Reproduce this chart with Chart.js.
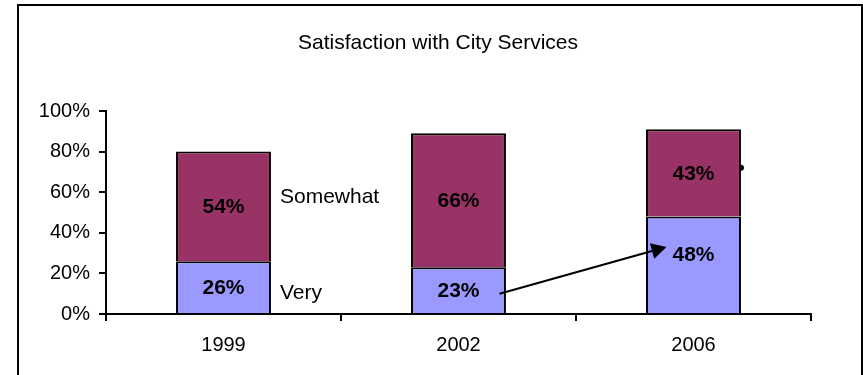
<!DOCTYPE html>
<html>
<head>
<meta charset="utf-8">
<script src="https://cdn.jsdelivr.net/npm/chart.js@4/dist/chart.umd.min.js"></script>
<style>
  html, body { margin: 0; padding: 0; background: #fff; }
  canvas { display: block; }
</style>
</head>
<body>
<canvas id="chart" width="863" height="375"></canvas>
<script>
const years = ['1999', '2002', '2006']
const very = [26, 23, 48]
const somewhat = [54, 66, 43]
const yTicks = [0, 20, 40, 60, 80, 100]
const title = 'Satisfaction with City Services'

const FONT = 'Arial, "Liberation Sans", sans-serif'

// frame, title, series labels, arrow and the value labels
const extras = {
  id: 'extras',
  afterDraw(chart) {
    const ctx = chart.ctx
    const y = chart.scales.y
    ctx.save()

    // outer frame
    ctx.strokeStyle = '#000'
    ctx.lineWidth = 2
    ctx.strokeRect(18, 5, 844, 380)

    // title, centred over the frame rather than the plot
    ctx.fillStyle = '#000'
    ctx.font = '21px ' + FONT
    ctx.textAlign = 'center'
    ctx.textBaseline = 'middle'
    ctx.fillText(title, 438, 43)

    // value labels in the bar segments
    ctx.font = 'bold 21px ' + FONT
    chart.data.datasets.forEach((ds, di) => {
      const meta = chart.getDatasetMeta(di)
      meta.data.forEach((bar, i) => {
        let cy = (bar.y + bar.base) / 2
        if (di === 0 && i === 2) cy -= 11
        ctx.fillText(ds.data[i] + '%', bar.x, cy + 1)
      })
    })

    // series names beside the first bar
    const first = chart.getDatasetMeta(0).data[0]
    const lx = first.x + first.width / 2 + 9
    ctx.font = '21px ' + FONT
    ctx.textAlign = 'left'
    ctx.fillText('Somewhat', lx, y.getPixelForValue(57.6))
    ctx.fillText('Very', lx, y.getPixelForValue(10.3))

    // arrow from 2002 to 2006
    const b2 = chart.getDatasetMeta(0).data[1]
    const b3 = chart.getDatasetMeta(0).data[2]
    const x0 = b2.x + 41, y0 = y.getPixelForValue(10)
    const x1 = b3.x - 27, y1 = y.getPixelForValue(33)
    const ang = Math.atan2(y1 - y0, x1 - x0)
    const hl = 15, hw = 8
    const bx = x1 - hl * Math.cos(ang), by = y1 - hl * Math.sin(ang)
    ctx.lineWidth = 2
    ctx.beginPath()
    ctx.moveTo(x0, y0)
    ctx.lineTo(bx, by)
    ctx.stroke()
    ctx.beginPath()
    ctx.moveTo(x1, y1)
    ctx.lineTo(bx + hw * Math.sin(ang), by - hw * Math.cos(ang))
    ctx.lineTo(bx - hw * Math.sin(ang), by + hw * Math.cos(ang))
    ctx.closePath()
    ctx.fill()

    // small stray mark right of the 2006 bar
    const b3top = chart.getDatasetMeta(1).data[2]
    ctx.beginPath()
    ctx.arc(b3top.x + b3top.width / 2, y.getPixelForValue(72), 3, -Math.PI / 2, Math.PI / 2)
    ctx.fill()

    ctx.restore()
  }
}

new Chart(document.getElementById('chart'), {
  type: 'bar',
  data: {
    labels: years,
    datasets: [{
      label: 'Very',
      data: very,
      backgroundColor: '#9999ff',
      borderColor: '#000',
      borderWidth: 2
    }, {
      label: 'Somewhat',
      data: somewhat,
      backgroundColor: '#993366',
      borderColor: '#000',
      borderWidth: 2
    }]
  },
  options: {
    responsive: false,
    animation: false,
    devicePixelRatio: 1,
    layout: { padding: { left: 0, right: 52, top: 111, bottom: 0 } },
    datasets: { bar: { barPercentage: 0.404, categoryPercentage: 1 } },
    plugins: {
      legend: { display: false },
      tooltip: { enabled: false },
      title: { display: false }
    },
    scales: {
      x: {
        stacked: true,
        afterFit: s => { s.height = 61 },
        border: { color: '#000', width: 2 },
        grid: { drawOnChartArea: false, color: '#000', lineWidth: 2, tickLength: 7, offset: true },
        ticks: { color: '#000', font: { family: FONT, size: 20 }, padding: 12, maxRotation: 0 }
      },
      y: {
        stacked: true,
        min: 0,
        max: 100,
        afterFit: s => { s.width = 106 },
        afterBuildTicks: s => { s.ticks = yTicks.map(v => ({ value: v })) },
        border: { color: '#000', width: 2 },
        grid: { drawOnChartArea: false, color: '#000', lineWidth: 2, tickLength: 7 },
        ticks: { color: '#000', font: { family: FONT, size: 20 }, padding: 9, callback: v => v + '%' }
      }
    }
  },
  plugins: [extras]
})
</script>
</body>
</html>
